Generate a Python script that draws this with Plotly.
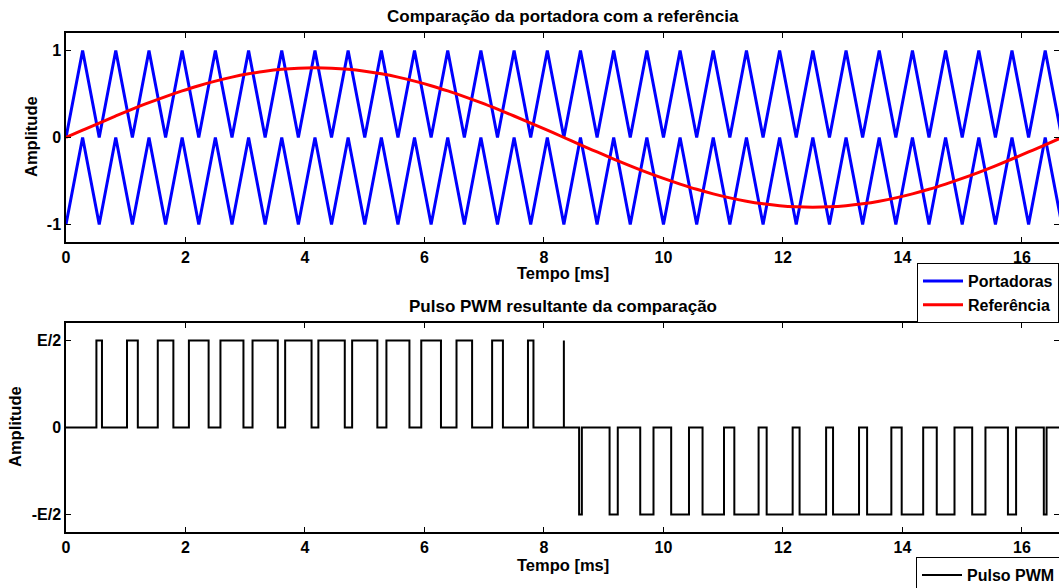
import plotly.graph_objects as go

# ---------------- data ----------------
# time instants (ms) of the carrier vertices (also used to sample the reference)
t_ms = [0, 0.278, 0.556, 0.833, 1.111, 1.389, 1.667, 1.944, 2.222, 2.5,
        2.778, 3.056, 3.333, 3.611, 3.889, 4.167, 4.444, 4.722, 5.0, 5.278,
        5.556, 5.833, 6.111, 6.389, 6.667, 6.944, 7.222, 7.5, 7.778, 8.056,
        8.333, 8.611, 8.889, 9.167, 9.444, 9.722, 10.0, 10.278, 10.556, 10.833,
        11.111, 11.389, 11.667, 11.944, 12.222, 12.5, 12.778, 13.056, 13.333, 13.611,
        13.889, 14.167, 14.444, 14.722, 15.0, 15.278, 15.556, 15.833, 16.111, 16.389,
        16.667]

carrier_upper = [0, 1, 0, 1, 0, 1, 0, 1, 0, 1,
                 0, 1, 0, 1, 0, 1, 0, 1, 0, 1,
                 0, 1, 0, 1, 0, 1, 0, 1, 0, 1,
                 0, 1, 0, 1, 0, 1, 0, 1, 0, 1,
                 0, 1, 0, 1, 0, 1, 0, 1, 0, 1,
                 0, 1, 0, 1, 0, 1, 0, 1, 0, 1,
                 0]

carrier_lower = [-1, 0, -1, 0, -1, 0, -1, 0, -1, 0,
                 -1, 0, -1, 0, -1, 0, -1, 0, -1, 0,
                 -1, 0, -1, 0, -1, 0, -1, 0, -1, 0,
                 -1, 0, -1, 0, -1, 0, -1, 0, -1, 0,
                 -1, 0, -1, 0, -1, 0, -1, 0, -1, 0,
                 -1, 0, -1, 0, -1, 0, -1, 0, -1, 0,
                 -1]

reference = [0, 0.084, 0.166, 0.247, 0.325, 0.4, 0.47, 0.535, 0.595, 0.647,
             0.693, 0.731, 0.761, 0.783, 0.796, 0.8, 0.796, 0.783, 0.761, 0.731,
             0.693, 0.647, 0.595, 0.535, 0.47, 0.4, 0.325, 0.247, 0.166, 0.084,
             0, -0.084, -0.166, -0.247, -0.325, -0.4, -0.47, -0.535, -0.595, -0.647,
             -0.693, -0.731, -0.761, -0.783, -0.796, -0.8, -0.796, -0.783, -0.761, -0.731,
             -0.693, -0.647, -0.595, -0.535, -0.47, -0.4, -0.325, -0.247, -0.166, -0.084,
             0]

# PWM pulses: start time, end time (ms) and level (units of E/2)
pwm_start = [0.509, 1.021, 1.536, 2.057, 2.585, 3.122, 3.668, 4.224, 4.789, 5.363,
             5.946, 6.536, 7.132, 7.732, 8.333,
             8.588, 9.098, 9.611, 10.129, 10.654, 11.186, 11.727, 12.278, 12.838, 13.408,
             13.987, 14.574, 15.167, 15.765, 16.366]
pwm_end = [0.602, 1.202, 1.797, 2.387, 2.970, 3.545, 4.110, 4.666, 5.211, 5.748,
           6.276, 6.797, 7.313, 7.824, 8.333,
           8.634, 9.235, 9.833, 10.427, 11.013, 11.592, 12.162, 12.722, 13.273, 13.814,
           14.347, 14.871, 15.389, 15.902, 16.412]
pwm_level = [1, 1, 1, 1, 1, 1, 1, 1, 1, 1, 1, 1, 1, 1, 1,
             -1, -1, -1, -1, -1, -1, -1, -1, -1, -1, -1, -1, -1, -1, -1]
t_end = 16.667

x_ticks = [0, 2, 4, 6, 8, 10, 12, 14, 16]
y_ticks = [-1, 0, 1]
y_text_top = ["-1", "0", "1"]
y_text_bottom = ["-E/2", "0", "E/2"]

# ---------------- build PWM polyline ----------------
pwm_x, pwm_y = [0], [0]
for a, b, lv in zip(pwm_start, pwm_end, pwm_level):
    pwm_x += [a, a, b, b]
    pwm_y += [0, lv, lv, 0]
pwm_x.append(t_end)
pwm_y.append(0)

FONT = "Liberation Sans, Arial, Helvetica, sans-serif"
W, H = 1059, 588
ML, MR, MT, MB = 66, 0, 33, 56
PW, PH = W - ML - MR, H - MT - MB


def px2x(p):
    return (p - ML) / PW


def px2y(p):
    return (H - MB - p) / PH


fig = go.Figure()

fig.add_trace(go.Scatter(x=t_ms, y=carrier_upper, mode="lines", name="Portadoras",
                         line=dict(color="#0000FF", width=3), legendgroup="c",
                         xaxis="x", yaxis="y", legend="legend"))
fig.add_trace(go.Scatter(x=t_ms, y=carrier_lower, mode="lines", name="Portadoras",
                         line=dict(color="#0000FF", width=3), legendgroup="c",
                         showlegend=False, xaxis="x", yaxis="y"))
fig.add_trace(go.Scatter(x=t_ms, y=reference, mode="lines", name="Referência",
                         line=dict(color="#FF0000", width=3, shape="spline"),
                         xaxis="x", yaxis="y", legend="legend"))
fig.add_trace(go.Scatter(x=pwm_x, y=pwm_y, mode="lines", name="Pulso PWM",
                         line=dict(color="#000000", width=2),
                         xaxis="x2", yaxis="y2", legend="legend2"))

tick_font = dict(family=FONT, size=16, color="black", weight="bold")
x_common = dict(showline=True, linecolor="black", linewidth=1.5, mirror="ticks",
                ticks="inside", ticklen=5, tickcolor="black", showgrid=False,
                zeroline=False, tickfont=tick_font)
y_common = dict(showline=True, linecolor="black", linewidth=1.5, mirror=False,
                ticks="inside", ticklen=5, tickcolor="black", showgrid=False,
                zeroline=False, tickfont=tick_font, range=[-1.2, 1.2], tickvals=y_ticks)
# right-hand ticks only (the right frame line lies just outside the picture)
y_right = dict(showline=False, ticks="inside", ticklen=5, tickcolor="black",
               showgrid=False, zeroline=False, showticklabels=False, side="right",
               range=[-1.2, 1.2], tickvals=y_ticks)

top_bottom_px = 242
bot_top_px = 323
dom_top = [px2y(top_bottom_px), 1]
dom_bot = [0, px2y(bot_top_px)]

fig.update_layout(
    width=W, height=H,
    margin=dict(l=ML, r=MR, t=MT, b=MB, autoexpand=False),
    paper_bgcolor="white", plot_bgcolor="white",
    xaxis=dict(domain=[0, 1], range=[0, 16.62], tickvals=x_ticks, anchor="y", **x_common),
    yaxis=dict(domain=dom_top, ticktext=y_text_top, anchor="x", **y_common),
    yaxis3=dict(domain=dom_top, overlaying="y", anchor="x", **y_right),
    xaxis2=dict(domain=[0, 1], range=[0, 16.62], tickvals=x_ticks, anchor="y2", **x_common),
    yaxis2=dict(domain=dom_bot, ticktext=y_text_bottom, anchor="x2", **y_common),
    yaxis4=dict(domain=dom_bot, overlaying="y2", anchor="x2", **y_right),
    legend=dict(x=px2x(917), y=px2y(263), xanchor="left", yanchor="top",
                bgcolor="white", bordercolor="black", borderwidth=1,
                font=dict(family=FONT, size=16, color="black", weight="bold"),
                tracegroupgap=0, itemwidth=40),
    legend2=dict(x=px2x(916), y=px2y(557), xanchor="left", yanchor="top",
                 bgcolor="white", bordercolor="black", borderwidth=1,
                 font=dict(family=FONT, size=16, color="black", weight="bold"),
                 itemwidth=40),
    showlegend=True,
)

# invisible helper traces so the right-hand tick axes are drawn
fig.add_trace(go.Scatter(x=[None], y=[None], xaxis="x", yaxis="y3", showlegend=False,
                         hoverinfo="skip"))
fig.add_trace(go.Scatter(x=[None], y=[None], xaxis="x2", yaxis="y4", showlegend=False,
                         hoverinfo="skip"))

ann_font = dict(family=FONT, size=16.5, color="black", weight="bold")
title_font = dict(family=FONT, size=17, color="black", weight="bold")
annotations = [
    dict(text="Comparação da portadora com a referência", x=0.5, y=px2y(16),
         font=title_font),
    dict(text="Pulso PWM resultante da comparação", x=0.5, y=px2y(306),
         font=title_font),
    dict(text="Tempo [ms]", x=px2x(563), y=px2y(273), font=ann_font),
    dict(text="Tempo [ms]", x=px2x(563), y=px2y(565), font=ann_font),
    dict(text="Amplitude", x=px2x(31), y=px2y(137), font=ann_font, textangle=-90),
    dict(text="Amplitude", x=px2x(15), y=px2y(427), font=ann_font, textangle=-90),
]
for a in annotations:
    a.update(xref="paper", yref="paper", xanchor="center", yanchor="middle",
             showarrow=False)
fig.update_layout(annotations=annotations)

fig.write_html("out.html")
